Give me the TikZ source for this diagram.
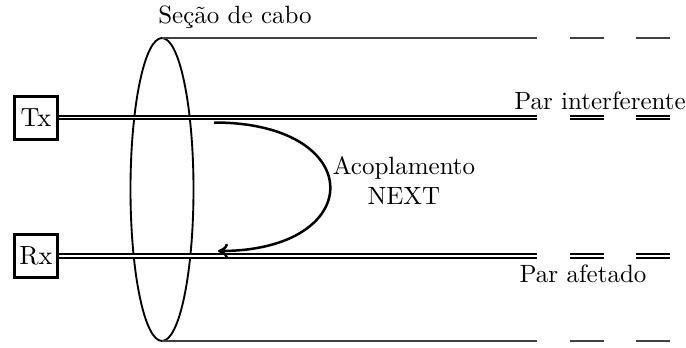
\documentclass[tikz,border=0pt]{standalone}
\usetikzlibrary{arrows.meta}
\begin{document}
\begin{tikzpicture}[x=0.4pt,y=-0.4pt,
  box/.style={draw,line width=1.2pt,minimum width=17.4pt,minimum height=17.2pt,inner sep=0pt,font=\fontsize{10.5}{12}\selectfont},
  pair/.style={draw,line width=0.65pt,double,double distance=0.75pt},
  wire/.style={draw,line width=0.8pt,black!75},
  lbl/.style={inner sep=0pt,font=\normalsize}]
\useasboundingbox (0,0) rectangle (686,347);
% ellipse (cable section)
\draw[line width=0.75pt] (162,189.5) ellipse [x radius=31.5, y radius=151.5];
% boxes
\node[box] (tx) at (36,117.5) {Tx};
\node[box] (rx) at (36,256) {Rx};
% coordinates
\coordinate (t0) at (162,38);   \coordinate (t1) at (537,38);
\coordinate (t2) at (570,38);   \coordinate (t3) at (604,38);
\coordinate (t4) at (636,38);   \coordinate (t5) at (670,38);
\coordinate (b0) at (162,341);  \coordinate (b1) at (537,341);
\coordinate (b2) at (570,341);  \coordinate (b3) at (604,341);
\coordinate (b4) at (636,341);  \coordinate (b5) at (670,341);
\coordinate (i1) at (537,117.5); \coordinate (i2) at (570,117.5);
\coordinate (i3) at (604,117.5); \coordinate (i4) at (636,117.5);
\coordinate (i5) at (670,117.5);
\coordinate (a1) at (537,256); \coordinate (a2) at (570,256);
\coordinate (a3) at (604,256); \coordinate (a4) at (636,256);
\coordinate (a5) at (670,256);
% outer cable lines
\path[wire] (t0) -- (t1) (t2) -- (t3) (t4) -- (t5);
\path[wire] (b0) -- (b1) (b2) -- (b3) (b4) -- (b5);
% pairs
\path[pair] (tx.east) -- (i1) (i2) -- (i3) (i4) -- (i5);
\path[pair] (rx.east) -- (a1) (a2) -- (a3) (a4) -- (a5);
% NEXT coupling arrow
\coordinate (cs) at (214,122.5);
\coordinate (ce) at (218,251);
\draw[line width=1pt,-{To[length=4pt,width=6pt]}] (cs) .. controls (368,122.5) and (368,251) .. (ce);
% labels
\node[lbl] (sec) at (235,17) {Seção de cabo};
\node[lbl] (pint) at (600,101) {Par interferente};
\node[lbl] (paf) at (583,274) {Par afetado};
\node[lbl,align=center] (next) at (404,181) {Acoplamento\\NEXT};
\end{tikzpicture}
\end{document}
